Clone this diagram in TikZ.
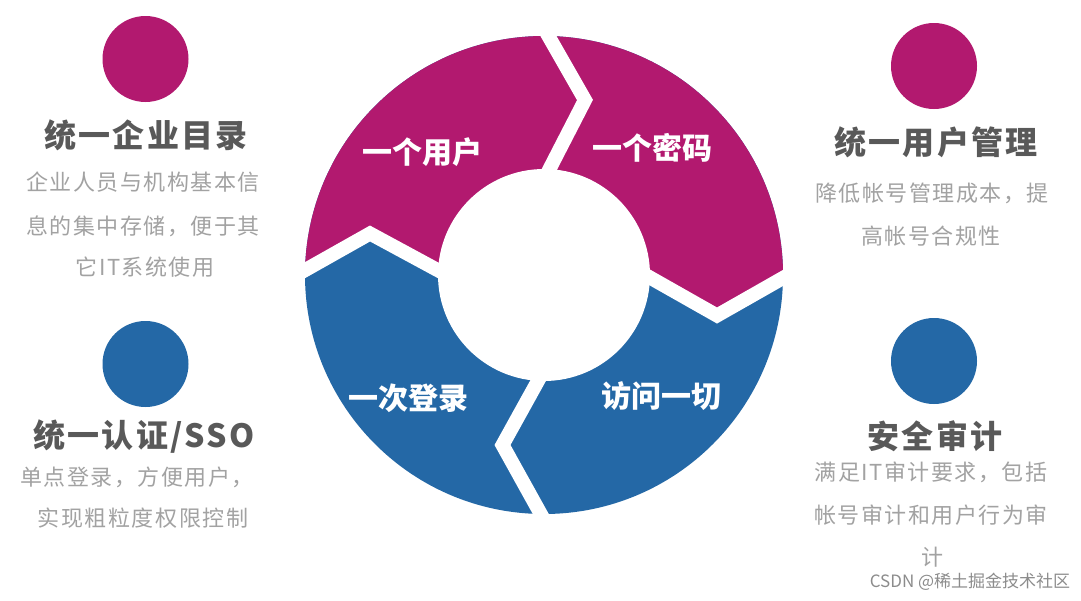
\documentclass[tikz,border=0pt]{standalone}
\usepackage{fontspec}
\newfontfamily\cjk{Noto Sans CJK SC}
\newfontfamily\cjkls[LetterSpace=7]{Noto Sans CJK SC}
\newfontfamily\cjkbody[LetterSpace=7]{Noto Sans CJK SC}
\definecolor{mag}{HTML}{B2196F}
\definecolor{blu}{HTML}{2468A6}
\definecolor{ttl}{HTML}{595959}
\definecolor{bdy}{HTML}{A2A2A2}
\tikzset{
  gapline/.style={draw=white,line width=14pt,miter limit=10,line join=miter},
  ringtxt/.style={text=white,font=\cjk\bfseries\fontsize{30}{34}\selectfont,inner sep=0pt},
  ttltxt/.style={text=ttl,font=\cjkls\bfseries\fontsize{32}{36}\selectfont,inner sep=0pt},
  bdytxt/.style={text=bdy,font=\cjkbody\fontsize{22}{26}\selectfont,inner sep=0pt},
  dotm/.style={circle,fill=mag,minimum size=86pt,inner sep=0pt},
  dotb/.style={circle,fill=blu,minimum size=86pt,inner sep=0pt},
}
\begin{document}
\begin{tikzpicture}[x=1pt,y=-1pt]
\useasboundingbox (0,0) rectangle (1081,600);
\fill[white] (0,0) rectangle (1081,600);
\coordinate (c) at (544,275);
% ring base
\fill[blu] (c) circle[radius=239];
\begin{scope}
  \clip (c) circle[radius=239];
  \fill[mag] (280,269) -- (307,269) -- (370,233.5) -- (437.5,270) -- (650,277.5) -- (717,315.5) -- (783,278) -- (810,278) -- (810,20) -- (280,20) -- cycle;
\end{scope}
\fill[white] (c) circle[radius=106];
% chevron gaps
\coordinate (t0) at (536.6,15.3);
\coordinate (t1) at (585,100);
\coordinate (t2) at (538.6,190.2);
\coordinate (r0) at (628.2,265.2);
\coordinate (r1) at (717,315.5);
\coordinate (r2) at (804.7,265.6);
\coordinate (b0) at (550.6,358.1);
\coordinate (b1) at (502.5,445);
\coordinate (b2) at (552.1,534.4);
\coordinate (l0) at (285.2,281.3);
\coordinate (l1) at (370,233.5);
\coordinate (l2) at (459.5,281.9);
\draw[gapline] (t0) -- (t1) -- (t2);
\draw[gapline] (r0) -- (r1) -- (r2);
\draw[gapline] (b0) -- (b1) -- (b2);
\draw[gapline] (l0) -- (l1) -- (l2);
% ring labels
\node[ringtxt] (s1) at (422,152) {一个用户};
\node[ringtxt] (s2) at (652,148) {一个密码};
\node[ringtxt] (s3) at (408,398) {一次登录};
\node[ringtxt] (s4) at (661,396) {访问一切};
% top-left
\node[dotm] (d1) at (145.5,59) {};
\node[ttltxt] (h1) at (146,135) {统一企业目录};
\node[bdytxt] (p1a) at (143,182) {企业人员与机构基本信};
\node[bdytxt] (p1b) at (143,226) {息的集中存储，便于其};
\node[bdytxt] (p1c) at (145,267) {它IT系统使用};
% top-right
\node[dotm] (d2) at (934,66) {};
\node[ttltxt] (h2) at (936,142) {统一用户管理};
\node[bdytxt] (p2a) at (932,193) {降低帐号管理成本，提};
\node[bdytxt] (p2b) at (931,236) {高帐号合规性};
% bottom-left
\node[dotb] (d3) at (145.5,364) {};
\node[ttltxt] (h3) at (144,437) {统一认证/SSO};
\node[bdytxt] (p3a) at (137,477) {单点登录，方便用户，};
\node[bdytxt] (p3b) at (143,518) {实现粗粒度权限控制};
% bottom-right
\node[dotb] (d4) at (934,361) {};
\node[ttltxt] (h4) at (935,436) {安全审计};
\node[bdytxt] (p4a) at (931,472) {满足IT审计要求，包括};
\node[bdytxt] (p4b) at (931,515) {帐号审计和用户行为审};
\node[bdytxt] (p4c) at (932,557) {计};
% watermark
\node[text=black!45,font=\cjk\fontsize{17}{20}\selectfont,inner sep=0pt] (wm) at (970,582) {CSDN @稀土掘金技术社区};
\end{tikzpicture}
\end{document}
